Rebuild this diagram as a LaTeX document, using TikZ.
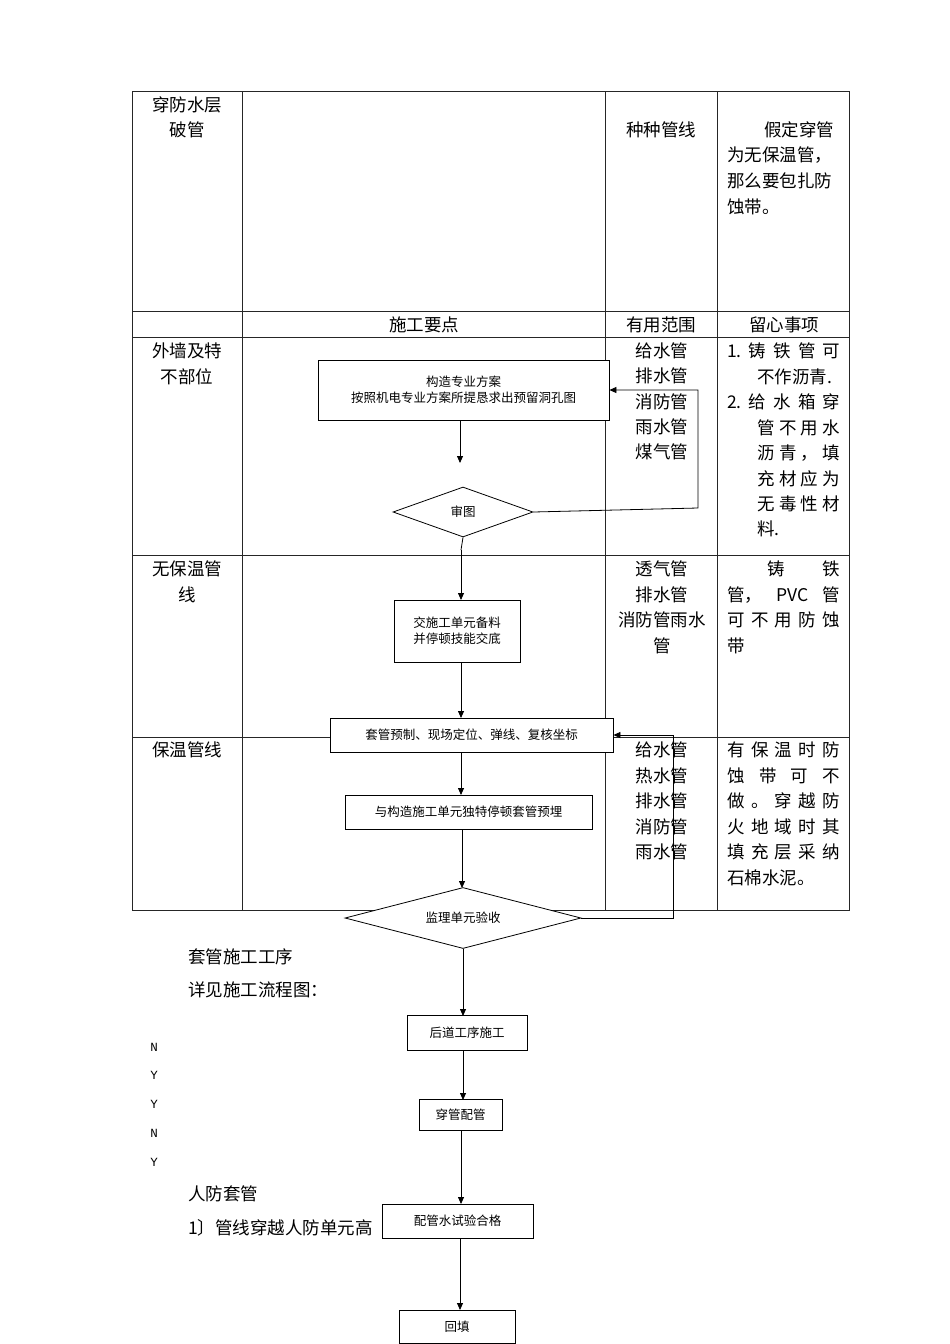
\documentclass[tikz,border=0pt]{standalone}
\usepackage{fontspec}
\setmainfont{Noto Sans CJK SC}
\newfontfamily\monof{Liberation Mono}
\usetikzlibrary{shapes.geometric,arrows.meta}
\newcommand\cs{\fontsize{17.5}{20}\selectfont}
\newcommand\fs{\fontsize{12.5}{16}\selectfont}
\newcommand\spr[2]{\makebox[#1][s]{#2}}
\begin{document}
\begin{tikzpicture}[x=1pt,y=-1pt,
  tl/.style={draw=black!85,line width=0.8pt},
  box/.style={draw,fill=white,line width=0.8pt,align=center,inner sep=0pt,font=\fs},
  dia/.style={draw,fill=white,diamond,aspect=3,inner sep=0pt,line width=0.8pt,font=\fs},
  ar/.style={-{Triangle[length=7pt,width=6pt]},line width=0.8pt},
  ct/.style={font=\cs,inner sep=0pt,anchor=center},
  lt/.style={font=\cs,inner sep=0pt,anchor=west}]
\useasboundingbox (0,0) rectangle (950,1344);
% table
\draw[tl] (132,91) rectangle (849,910);
\foreach \y in {311,337,555,737} \draw[tl] (132,\y) -- (849,\y);
\foreach \x in {242,605,717} \draw[tl] (\x,91) -- (\x,910);
% row 1
\node[ct] (t1) at (187,105) {穿防水层};
\node[ct] (t2) at (187,130) {破管};
\node[ct] (t3) at (661,130) {种种管线};
\node[lt] (t4) at (764,130) {假定穿管};
\node[lt] (t5) at (727,155) {为无保温管，};
\node[lt] (t6) at (727,181) {那么要包扎防};
\node[lt] (t7) at (727,207) {蚀带。};
% header
\node[ct] (h1) at (424,325) {施工要点};
\node[ct] (h2) at (661,325) {有用范围};
\node[ct] (h3) at (784,325) {留心事项};
% row 2
\node[ct] (r1) at (187,351) {外墙及特};
\node[ct] (r2) at (187,377) {不部位};
\foreach \t [count=\i] in {给水管,排水管,消防管,雨水管,煤气管}
  \node[ct] (ra\i) at (662,351+25.3*\i-25.3) {\t};
\node[lt] (rb1) at (727,351) {\spr{113pt}{1.\hfill 铸\hfill 铁\hfill 管\hfill 可}};
\node[lt] (rb2) at (757,377) {不作沥青.};
\node[lt] (rb3) at (727,402) {\spr{113pt}{2.\hfill 给\hfill 水\hfill 箱\hfill 穿}};
\node[lt] (rb4) at (757,428) {\spr{83pt}{管\hfill 不\hfill 用\hfill 水}};
\node[lt] (rb5) at (757,453) {\spr{83pt}{沥\hfill 青\hfill ，\hfill 填}};
\node[lt] (rb6) at (757,479) {\spr{83pt}{充\hfill 材\hfill 应\hfill 为}};
\node[lt] (rb7) at (757,504) {\spr{83pt}{无\hfill 毒\hfill 性\hfill 材}};
\node[lt] (rb8) at (757,529) {料.};
% row 3
\node[ct] (s1) at (187,569) {无保温管};
\node[ct] (s2) at (187,595) {线};
\node[ct] (sa1) at (662,569) {透气管};
\node[ct] (sa2) at (662,595) {排水管};
\node[ct] (sa3) at (662,620) {消防管雨水};
\node[ct] (sa4) at (662,646) {管};
\node[lt] (sb1) at (727,569) {\spr{113pt}{\hspace{40pt}铸\hfill 铁}};
\node[lt] (sb2) at (727,595) {\spr{113pt}{管，\hfill PVC\hfill 管}};
\node[lt] (sb3) at (727,620) {\spr{113pt}{可\hfill 不\hfill 用\hfill 防\hfill 蚀}};
\node[lt] (sb4) at (727,646) {带};
% row 4
\node[ct] (u1) at (187,750) {保温管线};
\foreach \t [count=\i] in {给水管,热水管,排水管,消防管,雨水管}
  \node[ct] (ua\i) at (662,750+25.5*\i-25.5) {\t};
\node[lt] (ub1) at (727,750) {\spr{113pt}{有\hfill 保\hfill 温\hfill 时\hfill 防}};
\node[lt] (ub2) at (727,776) {\spr{113pt}{蚀\hfill 带\hfill 可\hfill 不}};
\node[lt] (ub3) at (727,801) {\spr{113pt}{做\hfill 。\hfill 穿\hfill 越\hfill 防}};
\node[lt] (ub4) at (727,827) {\spr{113pt}{火\hfill 地\hfill 域\hfill 时\hfill 其}};
\node[lt] (ub5) at (727,852) {\spr{113pt}{填\hfill 充\hfill 层\hfill 采\hfill 纳}};
\node[lt] (ub6) at (727,878) {石棉水泥。};
% left texts
\node[lt] (l1) at (188,957) {套管施工工序};
\node[lt] (l2) at (188,990) {详见施工流程图：};
\foreach \t [count=\i] in {N,Y,Y,N,Y}
  \node[font=\monof\fontsize{12.5}{14}\selectfont,inner sep=0pt] (yn\i) at (154,1047+28.8*\i-28.8) {\t};
\node[lt] (l3) at (188,1194) {人防套管};
\node[lt] (l4) at (188,1228) {1〕管线穿越人防单元高};
% flowchart
\node[box,minimum width=291pt,minimum height=60pt] (A) at (463.5,390) {构造专业方案\\按照机电专业方案所提恳求出预留洞孔图};
\node[dia,minimum width=140pt,minimum height=50pt] (Bd) at (463,512) {审图};
\node[box,minimum width=126pt,minimum height=62pt] (B) at (457,631) {交施工单元备料\\并停顿技能交底};
\node[box,minimum width=283pt,minimum height=34pt] (C) at (471.5,735) {套管预制、现场定位、弹线、复核坐标};
\node[box,minimum width=247pt,minimum height=34pt] (D) at (468.5,812) {与构造施工单元独特停顿套管预埋};
\node[dia,minimum width=236pt,minimum height=61pt] (E) at (463,918) {监理单元验收};
\node[box,minimum width=120pt,minimum height=35pt] (F) at (467,1033) {后道工序施工};
\node[box,minimum width=83pt,minimum height=31pt] (G) at (460.5,1115) {穿管配管};
\node[box,minimum width=151pt,minimum height=34pt] (H) at (457.5,1221) {配管水试验合格};
\node[box,minimum width=116pt,minimum height=33pt] (I) at (457,1327) {回填};
\coordinate (a1) at (460,463);
\draw[ar] (460,420) -- (a1);
\draw[ar] (Bd.east) -- (698,508) -- (698,390) -- (A.east);
\draw[ar] (461,550) -- (461,600);
\draw[line width=0.8pt] (Bd.south) -- (461,550);
\draw[ar] (461,662) -- (461,718);
\draw[ar] (461,752) -- (461,795);
\draw[ar] (462,829) -- (462,888);
\draw[ar] (E.east) -- (673,918) -- (673,735) -- (C.east);
\draw[ar] (463,949) -- (463,1016);
\draw[ar] (463,1051) -- (463,1100);
\draw[ar] (461,1131) -- (461,1204);
\draw[ar] (460,1238) -- (460,1310);
\end{tikzpicture}
\end{document}
